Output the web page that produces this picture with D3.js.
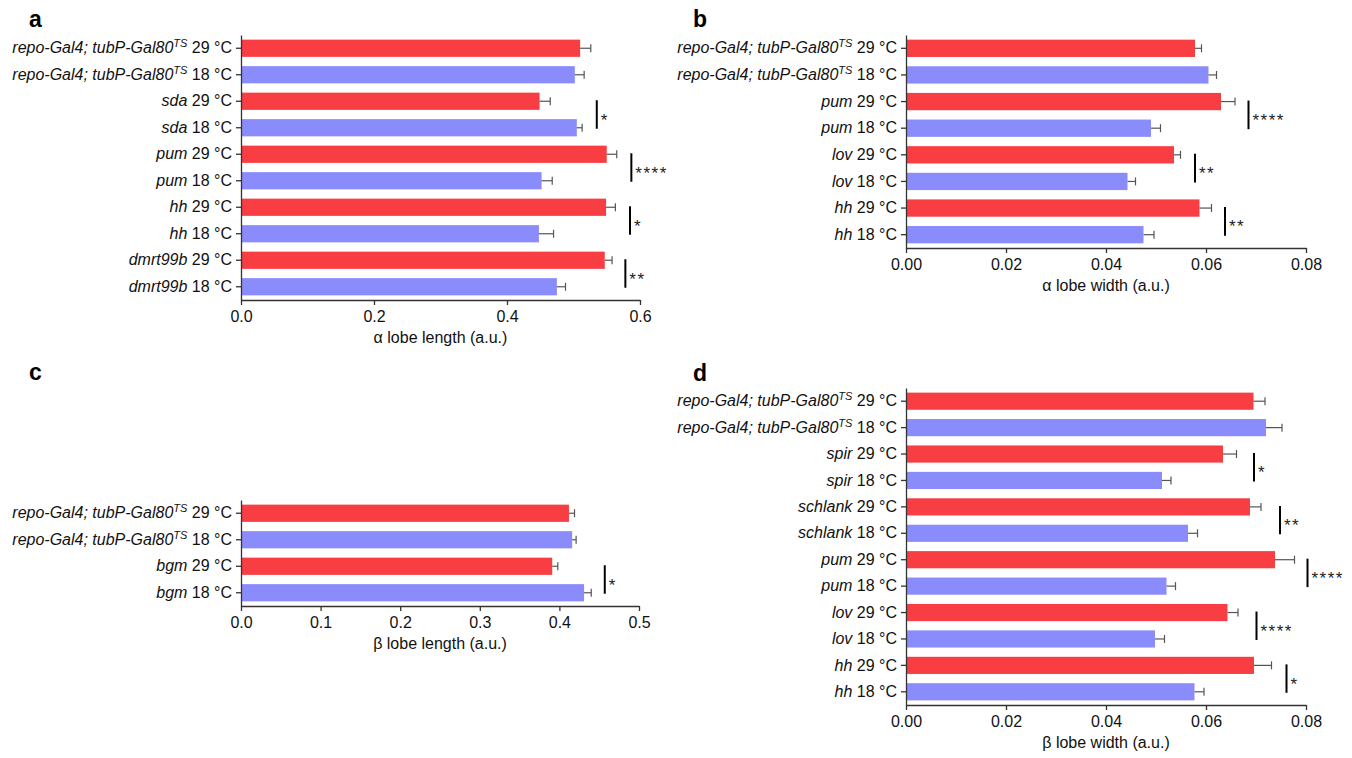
<!DOCTYPE html>
<html>
<head>
<meta charset="utf-8">
<script src="https://cdn.jsdelivr.net/npm/d3@7"></script>
<style>
  body { margin: 0; background: #fff; }
  svg { font-family: "Liberation Sans", Arial, Helvetica, sans-serif; }
</style>
</head>
<body>
<script>
var W = 1352, H = 758;
var RED = "#f93e43", BLUE = "#8b8cfc";

// ---- panel a : alpha lobe length ----
var aGenes = ["repo-Gal4; tubP-Gal80^TS", "repo-Gal4; tubP-Gal80^TS", "sda", "sda", "pum", "pum", "hh", "hh", "dmrt99b", "dmrt99b"];
var aTemps = ["29", "18", "29", "18", "29", "18", "29", "18", "29", "18"];
var aMeans = [0.510, 0.502, 0.449, 0.505, 0.550, 0.452, 0.549, 0.448, 0.547, 0.475];
var aSem   = [0.016, 0.014, 0.016, 0.008, 0.015, 0.016, 0.014, 0.022, 0.011, 0.013];
var aSigRows = [2, 4, 6, 8];
var aSigStars = ["*", "****", "*", "**"];
var aSigX = [0.535, 0.587, 0.585, 0.578];
var aTicks = [0, 0.2, 0.4, 0.6];

// ---- panel b : alpha lobe width ----
var bGenes = ["repo-Gal4; tubP-Gal80^TS", "repo-Gal4; tubP-Gal80^TS", "pum", "pum", "lov", "lov", "hh", "hh"];
var bTemps = ["29", "18", "29", "18", "29", "18", "29", "18"];
var bMeans = [0.0578, 0.0605, 0.0630, 0.0490, 0.0536, 0.0443, 0.0587, 0.0475];
var bSem   = [0.0013, 0.0016, 0.0028, 0.0019, 0.0013, 0.0016, 0.0024, 0.0021];
var bSigRows = [2, 4, 6];
var bSigStars = ["****", "**", "**"];
var bSigX = [0.0685, 0.0578, 0.0638];
var bTicks = [0, 0.02, 0.04, 0.06, 0.08];

// ---- panel c : beta lobe length ----
var cGenes = ["repo-Gal4; tubP-Gal80^TS", "repo-Gal4; tubP-Gal80^TS", "bgm", "bgm"];
var cTemps = ["29", "18", "29", "18"];
var cMeans = [0.412, 0.416, 0.391, 0.431];
var cSem   = [0.007, 0.005, 0.007, 0.009];
var cSigRows = [2];
var cSigStars = ["*"];
var cSigX = [0.457];
var cTicks = [0, 0.1, 0.2, 0.3, 0.4, 0.5];

// ---- panel d : beta lobe width ----
var dGenes = ["repo-Gal4; tubP-Gal80^TS", "repo-Gal4; tubP-Gal80^TS", "spir", "spir", "schlank", "schlank", "pum", "pum", "lov", "lov", "hh", "hh"];
var dTemps = ["29", "18", "29", "18", "29", "18", "29", "18", "29", "18", "29", "18"];
var dMeans = [0.0695, 0.0720, 0.0634, 0.0512, 0.0688, 0.0564, 0.0738, 0.0521, 0.0643, 0.0498, 0.0696, 0.0577];
var dSem   = [0.0023, 0.0032, 0.0027, 0.0018, 0.0022, 0.0019, 0.0039, 0.0018, 0.0021, 0.0019, 0.0035, 0.0019];
var dSigRows = [2, 4, 6, 8, 10];
var dSigStars = ["*", "**", "****", "****", "*"];
var dSigX = [0.0696, 0.0748, 0.0803, 0.0701, 0.0761];
var dTicks = [0, 0.02, 0.04, 0.06, 0.08];

var svg = d3.select("body").append("svg")
    .attr("width", W)
    .attr("height", H);

var FS = 16;

function drawPanel(p) {
    var rows = d3.range(p.means.length);
    var x = d3.scaleLinear().domain([0, p.max]).range([p.left, p.right]);
    var y = d3.scaleBand().domain(rows).range([p.top, p.bottom])
        .paddingInner(0.35).paddingOuter(0.175);
    var g = svg.append("g");

    // panel letter
    g.append("text")
        .attr("x", p.letterX).attr("y", p.letterY)
        .attr("font-size", 23).attr("font-weight", "bold")
        .text(p.letter);

    // bars
    g.selectAll("rect.bar").data(rows).enter().append("rect")
        .attr("class", "bar")
        .attr("x", x(0))
        .attr("y", function(i){ return y(i); })
        .attr("width", function(i){ return x(p.means[i]) - x(0); })
        .attr("height", y.bandwidth())
        .attr("fill", function(i){ return p.temps[i] == "29" ? RED : BLUE; });

    // error bars
    var eb = g.selectAll("g.err").data(rows).enter().append("g").attr("class", "err")
        .attr("stroke", "#555").attr("stroke-width", 1.2);
    eb.append("line")
        .attr("x1", function(i){ return x(p.means[i]); })
        .attr("x2", function(i){ return x(p.means[i] + p.sem[i]); })
        .attr("y1", function(i){ return y(i) + y.bandwidth() / 2; })
        .attr("y2", function(i){ return y(i) + y.bandwidth() / 2; });
    eb.append("line")
        .attr("x1", function(i){ return x(p.means[i] + p.sem[i]); })
        .attr("x2", function(i){ return x(p.means[i] + p.sem[i]); })
        .attr("y1", function(i){ return y(i) + y.bandwidth() / 2 - 4; })
        .attr("y2", function(i){ return y(i) + y.bandwidth() / 2 + 4; });

    // significance brackets
    var sig = g.selectAll("g.sig").data(d3.range(p.sigRows.length)).enter().append("g").attr("class", "sig");
    sig.append("line")
        .attr("x1", function(k){ return x(p.sigX[k]); })
        .attr("x2", function(k){ return x(p.sigX[k]); })
        .attr("y1", function(k){ return y(p.sigRows[k]) + y.bandwidth() / 2 - 1; })
        .attr("y2", function(k){ return y(p.sigRows[k] + 1) + y.bandwidth() / 2 + 1; })
        .attr("stroke", "#000").attr("stroke-width", 2);
    sig.append("text")
        .attr("x", function(k){ return x(p.sigX[k]) + 4; })
        .attr("y", function(k){ return (y(p.sigRows[k]) + y(p.sigRows[k] + 1)) / 2 + y.bandwidth() / 2 + 11; })
        .attr("font-size", 17)
        .attr("letter-spacing", 1.5)
        .attr("fill", "#222")
        .text(function(k){ return p.sigStars[k]; });

    // x axis
    var xa = g.append("g")
        .attr("transform", "translate(0," + p.bottom + ")")
        .call(d3.axisBottom(x).tickValues(p.ticks).tickFormat(d3.format(p.fmt))
            .tickSize(5).tickSizeOuter(0).tickPadding(6));
    xa.select(".domain").attr("stroke", "#333").attr("stroke-width", 1.3);
    xa.selectAll(".tick line").attr("stroke", "#333").attr("stroke-width", 1.3);
    xa.selectAll(".tick text").attr("font-size", FS).attr("fill", "#111")
        .attr("font-family", "Liberation Sans, Arial, sans-serif");

    g.append("text")
        .attr("x", (p.left + p.right) / 2)
        .attr("y", p.bottom + 43)
        .attr("text-anchor", "middle")
        .attr("font-size", FS).attr("fill", "#111")
        .text(p.title);

    // y axis
    var ya = g.append("g")
        .attr("transform", "translate(" + p.left + ",0)")
        .call(d3.axisLeft(y).tickSize(5).tickSizeOuter(0).tickPadding(4));
    ya.select(".domain").attr("stroke", "#333").attr("stroke-width", 1.3);
    ya.selectAll(".tick line").attr("stroke", "#333").attr("stroke-width", 1.3);
    ya.selectAll(".tick text").each(function(i) {
        var t = d3.select(this).text(null)
            .attr("font-size", FS).attr("fill", "#111")
            .attr("font-family", "Liberation Sans, Arial, sans-serif");
        var parts = p.genes[i].split("^");
        t.append("tspan").attr("font-style", "italic").text(parts[0]);
        if (parts.length > 1) {
            t.append("tspan").attr("font-style", "italic").attr("font-size", 11)
                .attr("dy", -6).text(parts[1]);
            t.append("tspan").attr("dy", 6).text(" " + p.temps[i] + " °C");
        } else {
            t.append("tspan").text(" " + p.temps[i] + " °C");
        }
    });
}

drawPanel({ letter: "a", letterX: 29, letterY: 27, genes: aGenes, temps: aTemps, means: aMeans, sem: aSem,
    sigRows: aSigRows, sigStars: aSigStars, sigX: aSigX, ticks: aTicks, fmt: ".1f", max: 0.6,
    left: 241, right: 640, top: 35, bottom: 300, title: "α lobe length (a.u.)" });

drawPanel({ letter: "b", letterX: 693, letterY: 27, genes: bGenes, temps: bTemps, means: bMeans, sem: bSem,
    sigRows: bSigRows, sigStars: bSigStars, sigX: bSigX, ticks: bTicks, fmt: ".2f", max: 0.08,
    left: 906, right: 1306, top: 35, bottom: 248, title: "α lobe width (a.u.)" });

drawPanel({ letter: "c", letterX: 29, letterY: 380, genes: cGenes, temps: cTemps, means: cMeans, sem: cSem,
    sigRows: cSigRows, sigStars: cSigStars, sigX: cSigX, ticks: cTicks, fmt: ".1f", max: 0.5,
    left: 241, right: 639, top: 500, bottom: 606, title: "β lobe length (a.u.)" });

drawPanel({ letter: "d", letterX: 693, letterY: 381, genes: dGenes, temps: dTemps, means: dMeans, sem: dSem,
    sigRows: dSigRows, sigStars: dSigStars, sigX: dSigX, ticks: dTicks, fmt: ".2f", max: 0.08,
    left: 906, right: 1306, top: 388, bottom: 705, title: "β lobe width (a.u.)" });
</script>
</body>
</html>
